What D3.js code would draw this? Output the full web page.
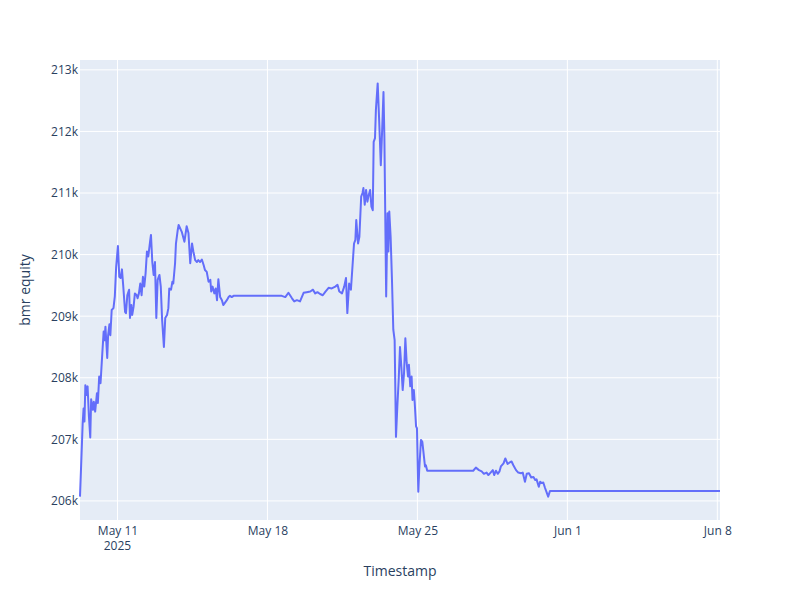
<!DOCTYPE html>
<html lang="en">

<head>
    <meta charset="UTF-8">
    <title>bmr equity</title>
    <script src="https://d3js.org/d3.v7.min.js"></script>
    <style>
        body { margin: 0; background: #fff; }
        text { font-family: "Open Sans", verdana, arial, sans-serif; }
    </style>
</head>

<body>
    <div id="chart"></div>
    <script>

        // timestamps (local time)
        const timestamps = [
            "2025-05-09 06:00", "2025-05-09 09:00", "2025-05-09 10:00", "2025-05-09 11:00", "2025-05-09 12:00",
            "2025-05-09 13:30", "2025-05-09 14:30", "2025-05-09 16:00", "2025-05-09 17:30", "2025-05-09 18:30",
            "2025-05-09 20:30", "2025-05-09 21:30", "2025-05-09 23:00", "2025-05-10 01:00", "2025-05-10 02:00",
            "2025-05-10 03:30", "2025-05-10 05:00", "2025-05-10 07:00", "2025-05-10 08:30", "2025-05-10 09:30",
            "2025-05-10 10:30", "2025-05-10 12:30", "2025-05-10 13:30", "2025-05-10 15:00", "2025-05-10 16:00",
            "2025-05-10 17:30", "2025-05-10 19:30", "2025-05-10 21:00", "2025-05-10 22:30", "2025-05-11 00:30",
            "2025-05-11 02:00", "2025-05-11 03:30", "2025-05-11 05:00", "2025-05-11 06:30", "2025-05-11 08:30",
            "2025-05-11 09:30", "2025-05-11 11:00", "2025-05-11 13:00", "2025-05-11 14:00", "2025-05-11 15:30",
            "2025-05-11 16:30", "2025-05-11 18:00", "2025-05-11 19:30", "2025-05-11 21:30", "2025-05-11 22:30",
            "2025-05-12 00:00", "2025-05-12 01:30", "2025-05-12 03:00", "2025-05-12 04:30", "2025-05-12 06:00",
            "2025-05-12 07:30", "2025-05-12 09:00", "2025-05-12 10:30", "2025-05-12 12:30", "2025-05-12 13:30",
            "2025-05-12 15:00", "2025-05-12 16:30", "2025-05-12 18:00", "2025-05-12 19:30", "2025-05-12 21:00",
            "2025-05-12 23:00", "2025-05-13 00:30", "2025-05-13 02:00", "2025-05-13 04:00", "2025-05-13 05:30",
            "2025-05-13 07:30", "2025-05-13 09:00", "2025-05-13 10:00", "2025-05-13 12:00", "2025-05-13 13:30",
            "2025-05-13 14:30", "2025-05-13 16:30", "2025-05-13 17:30", "2025-05-13 19:30", "2025-05-13 20:30",
            "2025-05-14 00:00", "2025-05-14 03:00", "2025-05-14 05:30", "2025-05-14 07:30", "2025-05-14 09:30",
            "2025-05-14 11:30", "2025-05-14 13:00", "2025-05-14 15:00", "2025-05-14 17:00", "2025-05-14 18:30",
            "2025-05-14 20:30", "2025-05-14 22:30", "2025-05-15 00:30", "2025-05-15 02:00", "2025-05-15 04:00",
            "2025-05-15 06:00", "2025-05-15 08:00", "2025-05-15 09:00", "2025-05-15 10:30", "2025-05-15 12:30",
            "2025-05-15 14:00", "2025-05-15 15:30", "2025-05-15 17:00", "2025-05-15 19:00", "2025-05-15 21:00",
            "2025-05-15 22:30", "2025-05-16 00:30", "2025-05-16 02:30", "2025-05-16 04:30", "2025-05-16 06:00",
            "2025-05-16 08:00", "2025-05-16 10:00", "2025-05-18 16:00", "2025-05-18 20:00", "2025-05-18 23:30",
            "2025-05-19 03:30", "2025-05-19 06:00", "2025-05-19 09:00", "2025-05-19 12:30", "2025-05-19 16:30",
            "2025-05-19 20:00", "2025-05-20 00:00", "2025-05-20 03:00", "2025-05-20 05:30", "2025-05-20 08:00",
            "2025-05-20 11:00", "2025-05-20 14:00", "2025-05-20 17:00", "2025-05-20 20:30", "2025-05-21 00:00",
            "2025-05-21 04:00", "2025-05-21 06:30", "2025-05-21 08:30", "2025-05-21 11:30", "2025-05-21 14:00",
            "2025-05-21 16:00", "2025-05-21 17:30", "2025-05-21 19:30", "2025-05-21 21:30", "2025-05-21 23:00",
            "2025-05-22 01:00", "2025-05-22 02:30", "2025-05-22 03:30", "2025-05-22 05:30", "2025-05-22 07:00",
            "2025-05-22 09:00", "2025-05-22 10:30", "2025-05-22 11:30", "2025-05-22 13:00", "2025-05-22 14:30",
            "2025-05-22 16:00", "2025-05-22 17:00", "2025-05-22 19:00", "2025-05-22 20:30", "2025-05-22 22:00",
            "2025-05-22 23:00", "2025-05-23 00:30", "2025-05-23 01:30", "2025-05-23 03:30", "2025-05-23 05:00",
            "2025-05-23 07:00", "2025-05-23 08:30", "2025-05-23 10:00", "2025-05-23 11:00", "2025-05-23 13:00",
            "2025-05-23 14:30", "2025-05-23 15:30", "2025-05-23 16:30", "2025-05-23 18:00", "2025-05-23 19:30",
            "2025-05-23 21:00", "2025-05-23 22:30", "2025-05-24 00:00", "2025-05-24 01:30", "2025-05-24 03:00",
            "2025-05-24 04:30", "2025-05-24 06:00", "2025-05-24 07:30", "2025-05-24 09:00", "2025-05-24 10:30",
            "2025-05-24 12:00", "2025-05-24 13:30", "2025-05-24 14:30", "2025-05-24 16:00", "2025-05-24 17:30",
            "2025-05-24 18:30", "2025-05-24 20:00", "2025-05-24 21:00", "2025-05-24 22:30", "2025-05-24 23:30",
            "2025-05-25 01:00", "2025-05-25 02:00", "2025-05-25 04:00", "2025-05-25 05:30", "2025-05-25 06:30",
            "2025-05-25 08:30", "2025-05-25 09:30", "2025-05-25 11:00", "2025-05-27 14:30", "2025-05-27 17:30",
            "2025-05-27 21:00", "2025-05-28 00:00", "2025-05-28 02:30", "2025-05-28 05:30", "2025-05-28 07:30",
            "2025-05-28 10:00", "2025-05-28 12:30", "2025-05-28 14:00", "2025-05-28 16:00", "2025-05-28 18:00",
            "2025-05-28 20:00", "2025-05-28 21:30", "2025-05-29 00:30", "2025-05-29 02:30", "2025-05-29 05:00",
            "2025-05-29 07:00", "2025-05-29 09:30", "2025-05-29 11:30", "2025-05-29 14:30", "2025-05-29 17:00",
            "2025-05-29 20:00", "2025-05-29 22:00", "2025-05-30 00:30", "2025-05-30 02:30", "2025-05-30 05:00",
            "2025-05-30 07:30", "2025-05-30 10:00", "2025-05-30 12:00", "2025-05-30 13:30", "2025-05-30 16:00",
            "2025-05-30 17:30", "2025-05-30 19:30", "2025-05-30 21:00", "2025-05-30 23:00", "2025-05-31 01:00",
            "2025-05-31 02:30", "2025-05-31 04:30", "2025-06-08 03:00"
        ];

        // bmr equity values
        const equity = [
            206070, 207260, 207500, 207290, 207880,
            207720, 207860, 207370, 207030, 207650,
            207480, 207610, 207450, 207750, 207590,
            208020, 207910, 208400, 208750, 208610,
            208830, 208320, 208690, 208870, 208690,
            209100, 209130, 209320, 209800, 210140,
            209640, 209620, 209760, 209480, 209070,
            209050, 209340, 209430, 208970, 209180,
            209020, 209150, 209370, 209340, 209290,
            209370, 209530, 209340, 209640, 209480,
            209700, 210050, 209970, 210210, 210320,
            209880, 209670, 209880, 208970, 209590,
            209670, 209480, 208940, 208500, 208970,
            209020, 209130, 209450, 209430, 209560,
            209530, 209860, 210180, 210400, 210480,
            210370, 210210, 210460, 210350, 209860,
            210180, 210050, 209910, 209880, 209910,
            209880, 209920, 209830, 209750, 209720,
            209560, 209590, 209400, 209480, 209370,
            209450, 209260, 209600, 209310, 209260,
            209180, 209220, 209260, 209310, 209330,
            209310, 209330, 209330, 209310, 209380,
            209290, 209240, 209260, 209240, 209380,
            209390, 209400, 209430, 209370, 209390,
            209360, 209340, 209400, 209460, 209450,
            209480, 209510, 209400, 209370, 209480,
            209620, 209050, 209530, 209430, 209750,
            210180, 210240, 210560, 210180, 210290,
            210940, 211000, 211080, 210810, 211050,
            210860, 210940, 211050, 210780, 210720,
            211830, 211890, 212350, 212780, 212240,
            211450, 212020, 212640, 211910, 209320,
            210670, 210050, 210700, 210290, 209590,
            208780, 208610, 207040, 207530, 207960,
            208500, 208180, 207800, 208070, 208640,
            208240, 208020, 208210, 207860, 208020,
            207640, 207800, 207590, 207210, 207180,
            206150, 206500, 206990, 206960, 206830,
            206560, 206580, 206490, 206490, 206540,
            206500, 206480, 206440, 206460, 206420,
            206460, 206500, 206420, 206490, 206440,
            206480, 206560, 206610, 206690, 206600,
            206620, 206640, 206580, 206500, 206460,
            206450, 206460, 206310, 206440, 206450,
            206380, 206390, 206340, 206350, 206230,
            206310, 206290, 206300, 206210, 206130,
            206070, 206160, 206160
        ];

        const yTicks = [206000, 207000, 208000, 209000, 210000, 211000, 212000, 213000];
        const xTicks = ["2025-05-11 00:00", "2025-05-18 00:00", "2025-05-25 00:00", "2025-06-01 00:00", "2025-06-08 00:00"];
        const yRange = [205690, 213160];

        const parseTime = d3.timeParse("%Y-%m-%d %H:%M");
        const data = timestamps.map((t, i) => ({ date: parseTime(t), value: equity[i] }));

        // plot area like plotly's default layout
        const margin = { top: 60, right: 80, bottom: 80, left: 80 };
        const width = 800 - margin.left - margin.right;
        const height = 600 - margin.top - margin.bottom;

        const svg = d3.select("#chart")
            .append("svg")
            .attr("width", 800)
            .attr("height", 600);

        const g = svg.append("g")
            .attr("transform", `translate(${margin.left}, ${margin.top})`);

        const x = d3.scaleTime()
            .domain(d3.extent(data, d => d.date))
            .range([0, width]);

        const y = d3.scaleLinear()
            .domain(yRange)
            .range([height, 0]);

        g.append("rect")
            .attr("width", width)
            .attr("height", height)
            .attr("fill", "#E5ECF6");

        // grid lines
        g.selectAll(".ygrid")
            .data(yTicks)
            .join("line")
            .attr("x1", 0)
            .attr("x2", width)
            .attr("y1", d => y(d))
            .attr("y2", d => y(d))
            .attr("stroke", "white")
            .attr("stroke-width", 1);

        g.selectAll(".xgrid")
            .data(xTicks.map(parseTime))
            .join("line")
            .attr("x1", d => x(d))
            .attr("x2", d => x(d))
            .attr("y1", 0)
            .attr("y2", height)
            .attr("stroke", "white")
            .attr("stroke-width", 1);

        // y axis
        const yAxis = g.append("g")
            .call(d3.axisLeft(y)
                .tickValues(yTicks)
                .tickSize(0)
                .tickPadding(2)
                .tickFormat(d => (d / 1000) + "k"));
        yAxis.select(".domain").remove();
        yAxis.selectAll("text")
            .attr("fill", "#2a3f5f")
            .style("font-size", "12px");

        // x axis
        const xAxis = g.append("g")
            .attr("transform", `translate(0, ${height})`)
            .call(d3.axisBottom(x)
                .tickValues(xTicks.map(parseTime))
                .tickSize(0)
                .tickPadding(6)
                .tickFormat(d3.timeFormat("%b %-d")));
        xAxis.select(".domain").remove();
        xAxis.selectAll("text")
            .attr("fill", "#2a3f5f")
            .style("font-size", "12px");

        // year under the first tick, plotly style
        const firstTick = parseTime(xTicks[0]);
        g.append("text")
            .attr("x", x(firstTick))
            .attr("y", height + 30)
            .attr("text-anchor", "middle")
            .attr("fill", "#2a3f5f")
            .style("font-size", "12px")
            .text("2025");

        // the equity line
        const line = d3.line()
            .x(d => x(d.date))
            .y(d => y(d.value));

        g.append("path")
            .datum(data)
            .attr("fill", "none")
            .attr("stroke", "#636efa")
            .attr("stroke-width", 2)
            .attr("stroke-linejoin", "round")
            .attr("d", line);

        // axis titles
        svg.append("text")
            .attr("x", margin.left + width / 2)
            .attr("y", 576)
            .attr("text-anchor", "middle")
            .attr("fill", "#2a3f5f")
            .style("font-size", "14px")
            .text("Timestamp");

        svg.append("text")
            .attr("transform", `translate(30, ${margin.top + height / 2}) rotate(-90)`)
            .attr("text-anchor", "middle")
            .attr("fill", "#2a3f5f")
            .style("font-size", "14px")
            .text("bmr equity");

    </script>

</body>

</html>
